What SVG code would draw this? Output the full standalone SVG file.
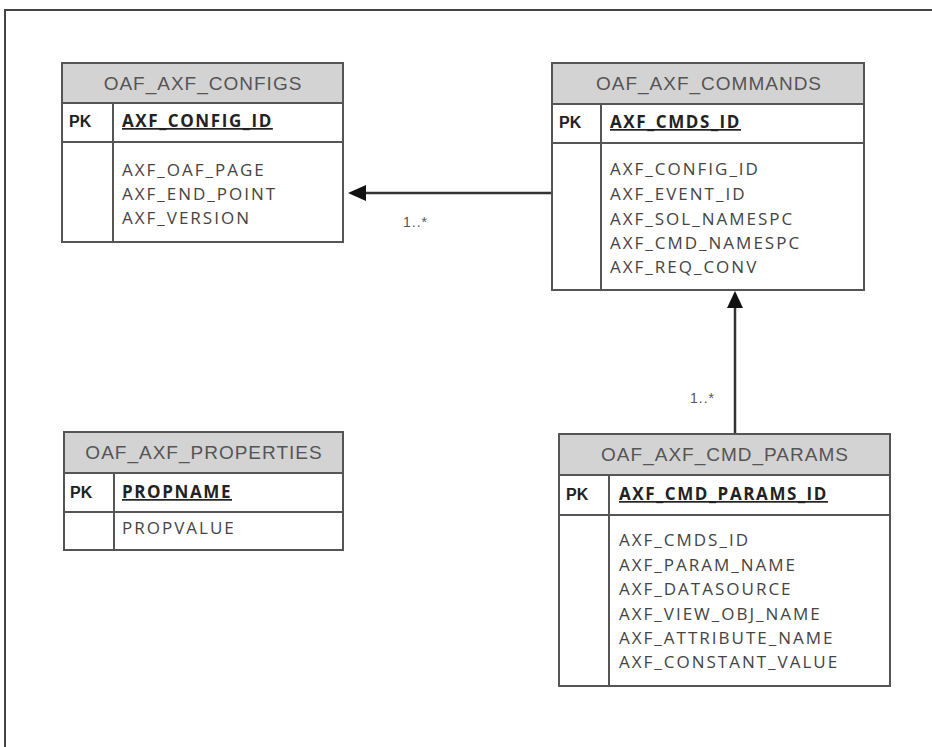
<svg xmlns="http://www.w3.org/2000/svg" width="932" height="747" viewBox="0 0 932 747">
<defs>
<style>
.box{fill:#fff;stroke:#555;stroke-width:2}
.hdr{fill:#d3d3d3;stroke:#555;stroke-width:2}
.ln{stroke:#555;stroke-width:2;fill:none}
.ht{font-family:"Liberation Sans",Arial,sans-serif;font-size:19px;letter-spacing:1px;fill:#555;text-anchor:middle}
.pk{font-family:"Liberation Sans",Arial,sans-serif;font-size:16px;font-weight:bold;fill:#222}
.pkf{font-family:"Open Sans",sans-serif;font-size:17px;letter-spacing:1.6px;font-weight:bold;fill:#222;text-decoration:underline}
.f{font-family:"Open Sans",sans-serif;font-size:17px;letter-spacing:2px;fill:#444}
.lbl{font-family:"Liberation Sans",Arial,sans-serif;font-size:14px;letter-spacing:1px;fill:#555}
.conn{stroke:#333;stroke-width:2.5;fill:none}
</style>
</defs>
<rect width="932" height="747" fill="#fff"/>
<path d="M5,747 V10 H932" fill="none" stroke="#444" stroke-width="2"/>
<g id="connectors">
<line class="conn" x1="552" y1="193" x2="357" y2="193"/>
<path d="M348,193 L366,185 L366,201 Z" fill="#111"/>
<text class="lbl" x="403" y="227">1..*</text>
<line class="conn" x1="735" y1="434" x2="735" y2="300"/>
<path d="M735,291 L727,308 L743,308 Z" fill="#111"/>
<text class="lbl" x="690" y="403">1..*</text>
</g>
<g id="configs">
<rect class="box" x="62" y="63" width="281" height="179"/>
<rect class="hdr" x="62" y="63" width="281" height="40"/>
<text class="ht" x="203" y="90">OAF_AXF_CONFIGS</text>
<line class="ln" x1="62" y1="142" x2="343" y2="142"/>
<line class="ln" x1="113" y1="103" x2="113" y2="242"/>
<text class="pk" x="69" y="127">PK</text>
<text class="pkf" x="122" y="127">AXF_CONFIG_ID</text>
<text class="f" x="122" y="176">AXF_OAF_PAGE</text>
<text class="f" x="122" y="200">AXF_END_POINT</text>
<text class="f" x="122" y="224">AXF_VERSION</text>
</g>
<g id="commands">
<rect class="box" x="552" y="63" width="312" height="227"/>
<rect class="hdr" x="552" y="63" width="312" height="41"/>
<text class="ht" x="709" y="90">OAF_AXF_COMMANDS</text>
<line class="ln" x1="552" y1="143" x2="864" y2="143"/>
<line class="ln" x1="601" y1="104" x2="601" y2="290"/>
<text class="pk" x="559" y="128">PK</text>
<text class="pkf" x="610" y="128">AXF_CMDS_ID</text>
<text class="f" x="610" y="175">AXF_CONFIG_ID</text>
<text class="f" x="610" y="200">AXF_EVENT_ID</text>
<text class="f" x="610" y="225">AXF_SOL_NAMESPC</text>
<text class="f" x="610" y="249">AXF_CMD_NAMESPC</text>
<text class="f" x="610" y="273">AXF_REQ_CONV</text>
</g>
<g id="properties">
<rect class="box" x="64" y="432" width="279" height="118"/>
<rect class="hdr" x="64" y="432" width="279" height="41"/>
<text class="ht" x="204" y="459">OAF_AXF_PROPERTIES</text>
<line class="ln" x1="64" y1="512" x2="343" y2="512"/>
<line class="ln" x1="114" y1="473" x2="114" y2="550"/>
<text class="pk" x="70" y="498">PK</text>
<text class="pkf" x="122" y="498">PROPNAME</text>
<text class="f" x="122" y="534">PROPVALUE</text>
</g>
<g id="cmd_params">
<rect class="box" x="559" y="434" width="331" height="252"/>
<rect class="hdr" x="559" y="434" width="331" height="41"/>
<text class="ht" x="725" y="461">OAF_AXF_CMD_PARAMS</text>
<line class="ln" x1="559" y1="515" x2="890" y2="515"/>
<line class="ln" x1="609" y1="475" x2="609" y2="686"/>
<text class="pk" x="566" y="500">PK</text>
<text class="pkf" x="619" y="500">AXF_CMD_PARAMS_ID</text>
<text class="f" x="619" y="546">AXF_CMDS_ID</text>
<text class="f" x="619" y="571">AXF_PARAM_NAME</text>
<text class="f" x="619" y="595">AXF_DATASOURCE</text>
<text class="f" x="619" y="620">AXF_VIEW_OBJ_NAME</text>
<text class="f" x="619" y="644">AXF_ATTRIBUTE_NAME</text>
<text class="f" x="619" y="668">AXF_CONSTANT_VALUE</text>
</g>
</svg>
